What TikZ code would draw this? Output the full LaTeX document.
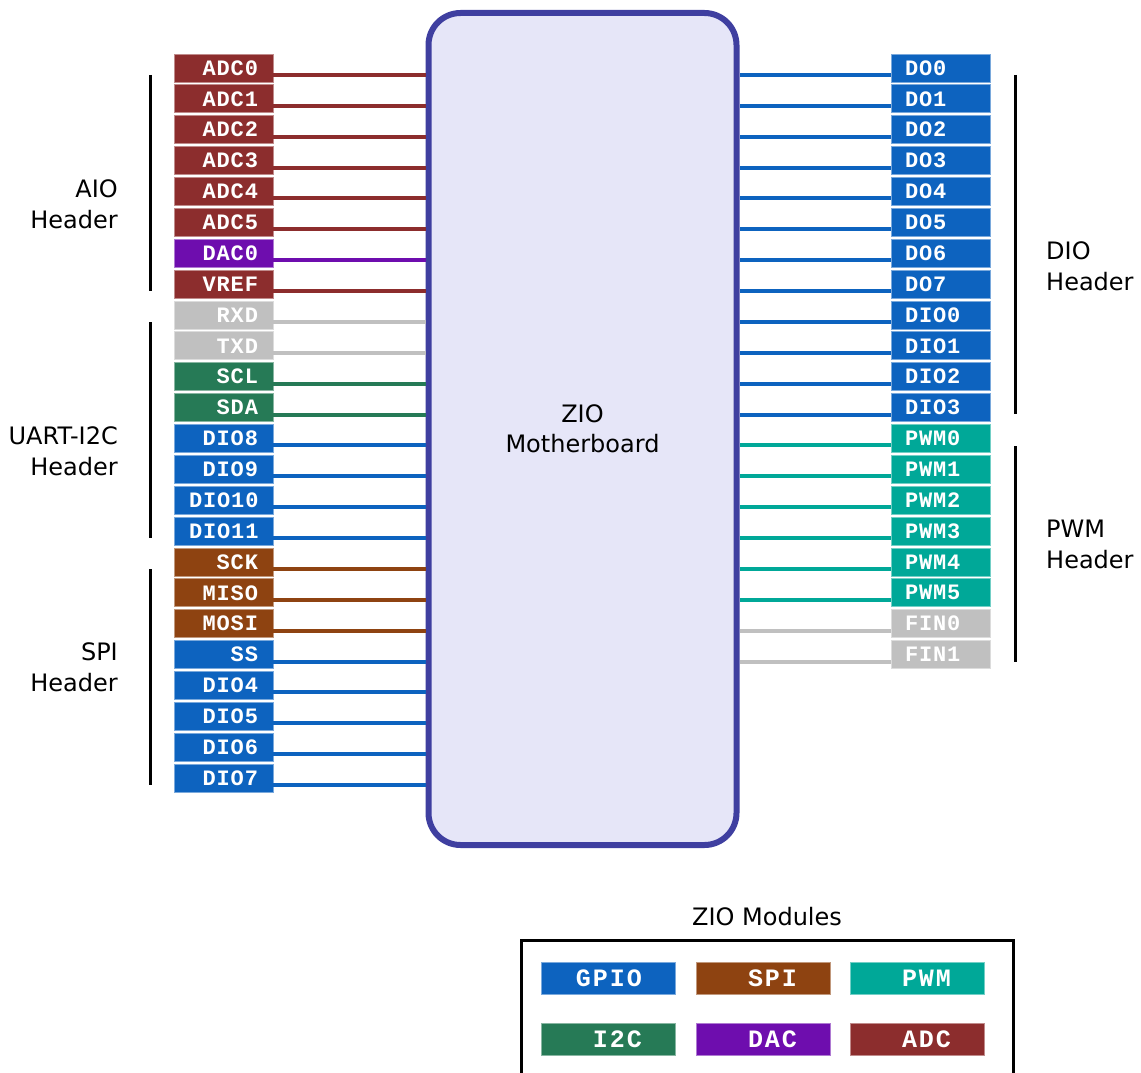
\documentclass[tikz,border=0pt]{standalone}
\usepackage{fontspec}
\setmainfont{DejaVu Sans}
\newfontfamily\pinfont{Liberation Mono}[LetterSpace=4]
\newfontfamily\legfont{Liberation Mono}[LetterSpace=8]
\definecolor{cADC}{HTML}{8C2D2D}
\definecolor{cDAC}{HTML}{6E0DAE}
\definecolor{cGPIO}{HTML}{0D63BF}
\definecolor{cGRAY}{HTML}{C0C0C0}
\definecolor{cI2C}{HTML}{267A56}
\definecolor{cSPI}{HTML}{8E4311}
\definecolor{cPWM}{HTML}{00A898}
\definecolor{mbfill}{HTML}{E6E6F8}
\definecolor{mbdraw}{HTML}{3F3FA0}
\tikzset{
  pinbase/.style={rectangle, fill=#1, draw=#1!55!white, line width=0.8pt,
    minimum height=28pt, inner ysep=0pt, text=white,
    font=\pinfont\bfseries\fontsize{22}{22}\selectfont},
  pinL/.style={pinbase=#1, text width=69pt, inner xsep=15pt, align=right},
  pinR/.style={pinbase=#1, text width=71pt, inner xsep=14pt, align=left},
  legbox/.style={rectangle, fill=#1, draw=#1!55!white, line width=0.8pt,
    minimum height=32pt, inner ysep=0pt, text=white, text width=68pt,
    inner xsep=33pt, align=right,
    font=\legfont\bfseries\fontsize{25}{25}\selectfont},
  pinline/.style={line width=4pt, draw=#1},
  bracket/.style={line width=3pt, black},
  hdr/.style={font=\fontsize{24}{31}\selectfont, inner sep=0pt},
}
\begin{document}
\begin{tikzpicture}[x=1pt,y=-1pt]
\useasboundingbox (0,0) rectangle (1141,1073);
\clip (0,0) rectangle (1141,1073);
% motherboard
\node[rectangle, rounded corners=32pt, fill=mbfill, draw=mbdraw, line width=6pt,
      minimum width=308pt, minimum height=832pt, align=center,
      font=\fontsize{24}{30}\selectfont] (mb) at (582.5,429) {ZIO\\Motherboard};
% left pins
\foreach \t/\c [count=\i from 0] in {ADC0/cADC,ADC1/cADC,ADC2/cADC,ADC3/cADC,ADC4/cADC,ADC5/cADC,DAC0/cDAC,VREF/cADC,RXD/cGRAY,TXD/cGRAY,SCL/cI2C,SDA/cI2C,DIO8/cGPIO,DIO9/cGPIO,DIO10/cGPIO,DIO11/cGPIO,SCK/cSPI,MISO/cSPI,MOSI/cSPI,SS/cGPIO,DIO4/cGPIO,DIO5/cGPIO,DIO6/cGPIO,DIO7/cGPIO}{
  \node[pinL=\c] (L\i) at (223.5,{68+30.87*\i}) {\t};
  \draw[pinline=\c] ([yshift=-7pt]L\i.east) -- ([yshift=-7pt]L\i.east -| mb.west);
}
% right pins
\foreach \t/\c [count=\i from 0] in {DO0/cGPIO,DO1/cGPIO,DO2/cGPIO,DO3/cGPIO,DO4/cGPIO,DO5/cGPIO,DO6/cGPIO,DO7/cGPIO,DIO0/cGPIO,DIO1/cGPIO,DIO2/cGPIO,DIO3/cGPIO,PWM0/cPWM,PWM1/cPWM,PWM2/cPWM,PWM3/cPWM,PWM4/cPWM,PWM5/cPWM,FIN0/cGRAY,FIN1/cGRAY}{
  \node[pinR=\c] (R\i) at (940.5,{68+30.87*\i}) {\t};
  \draw[pinline=\c] ([yshift=-7pt]R\i.west) -- ([yshift=-7pt]R\i.west -| mb.east);
}
% brackets
\coordinate (b1t) at (150,75); \coordinate (b1b) at (150,291);
\coordinate (b2t) at (150,322); \coordinate (b2b) at (150,538);
\coordinate (b3t) at (150,569); \coordinate (b3b) at (150,785);
\coordinate (b4t) at (1015,75); \coordinate (b4b) at (1015,414);
\coordinate (b5t) at (1015,446); \coordinate (b5b) at (1015,662);
\draw[bracket] (b1t) -- (b1b);
\draw[bracket] (b2t) -- (b2b);
\draw[bracket] (b3t) -- (b3b);
\draw[bracket] (b4t) -- (b4b);
\draw[bracket] (b5t) -- (b5b);
% header labels
\node[hdr, align=right, anchor=south east] (hA) at (118,229) {AIO\\Header};
\node[hdr, align=right, anchor=south east] (hU) at (118,476) {UART-I2C\\Header};
\node[hdr, align=right, anchor=south east] (hS) at (118,692) {SPI\\Header};
\node[hdr, align=left, anchor=south west] (hD) at (1046,291) {DIO\\Header};
\node[hdr, align=left, anchor=south west] (hP) at (1046,569) {PWM\\Header};
% legend
\node[font=\fontsize{24}{24}\selectfont, inner sep=0pt, anchor=base] (lt) at (767,925) {ZIO Modules};
\draw[line width=3pt] (521,940) rectangle (1013,1100);
\node[legbox=cGPIO] (g1) at (608,978) {GPIO};
\node[legbox=cSPI] (g2) at (763,978) {SPI};
\node[legbox=cPWM] (g3) at (917,978) {PWM};
\node[legbox=cI2C] (g4) at (608,1039.5) {I2C};
\node[legbox=cDAC] (g5) at (763,1039.5) {DAC};
\node[legbox=cADC] (g6) at (917,1039.5) {ADC};
\end{tikzpicture}
\end{document}
